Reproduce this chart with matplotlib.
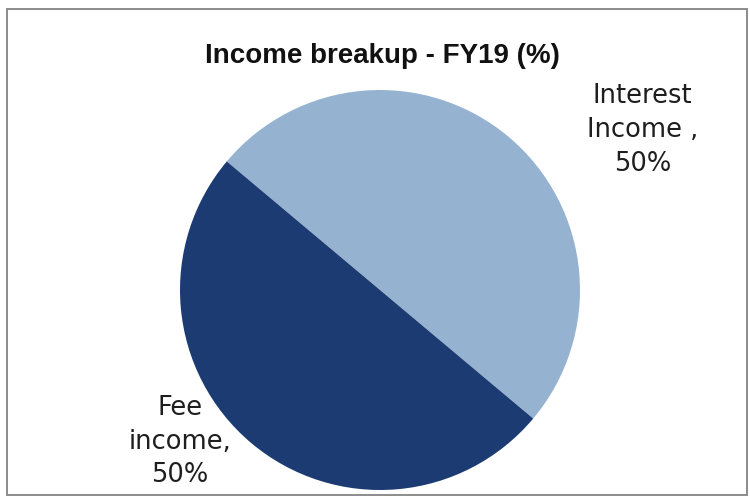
import matplotlib
matplotlib.use("Agg")
import matplotlib.pyplot as plt
from matplotlib.patches import Rectangle

# Income mix for FY19
categories = ["Interest\nIncome ,", "Fee\nincome,"]
shares = [50, 50]
colors = ["#95B3D0", "#1C3B73"]
title = "Income breakup - FY19 (%)"

W, H = 750, 496
fig = plt.figure(figsize=(W / 100, H / 100), dpi=100)
fig.patch.set_facecolor("white")

# Chart frame
fig.add_artist(Rectangle((7 / W, 1 / H), 740 / W, 486 / H, transform=fig.transFigure,
                         fill=False, edgecolor="#8C8C8C", linewidth=1.4))

# Pie area: centre (380, 290) px, radius 200 px
cx, cy, r = 380, 290, 200
ax = fig.add_axes([(cx - r) / W, (H - cy - r) / H, 2 * r / W, 2 * r / H])
wedges, _ = ax.pie(shares, colors=colors, startangle=140, counterclock=False,
                   radius=1.0, wedgeprops=dict(linewidth=0))
ax.set_xlim(-1, 1)
ax.set_ylim(-1, 1)
ax.set_aspect("equal")
ax.axis("off")

label_pos = [(1.3125, 0.80), (-1.0, -0.7575)]
for name, val, (lx, ly) in zip(categories, shares, label_pos):
    ax.text(lx, ly, f"{name}\n{val}%", ha="center", va="center",
            fontsize=18.5, color="#1E1E1E", linespacing=1.38,
            family=["DejaVu Sans"], clip_on=False)

fig.text(382.5 / W, 1 - 63 / H, title, ha="center", va="baseline",
         fontsize=20, fontweight="bold", color="#111111",
         family=["Liberation Sans", "DejaVu Sans"])

fig.savefig("out.png", dpi=100, facecolor="white")
